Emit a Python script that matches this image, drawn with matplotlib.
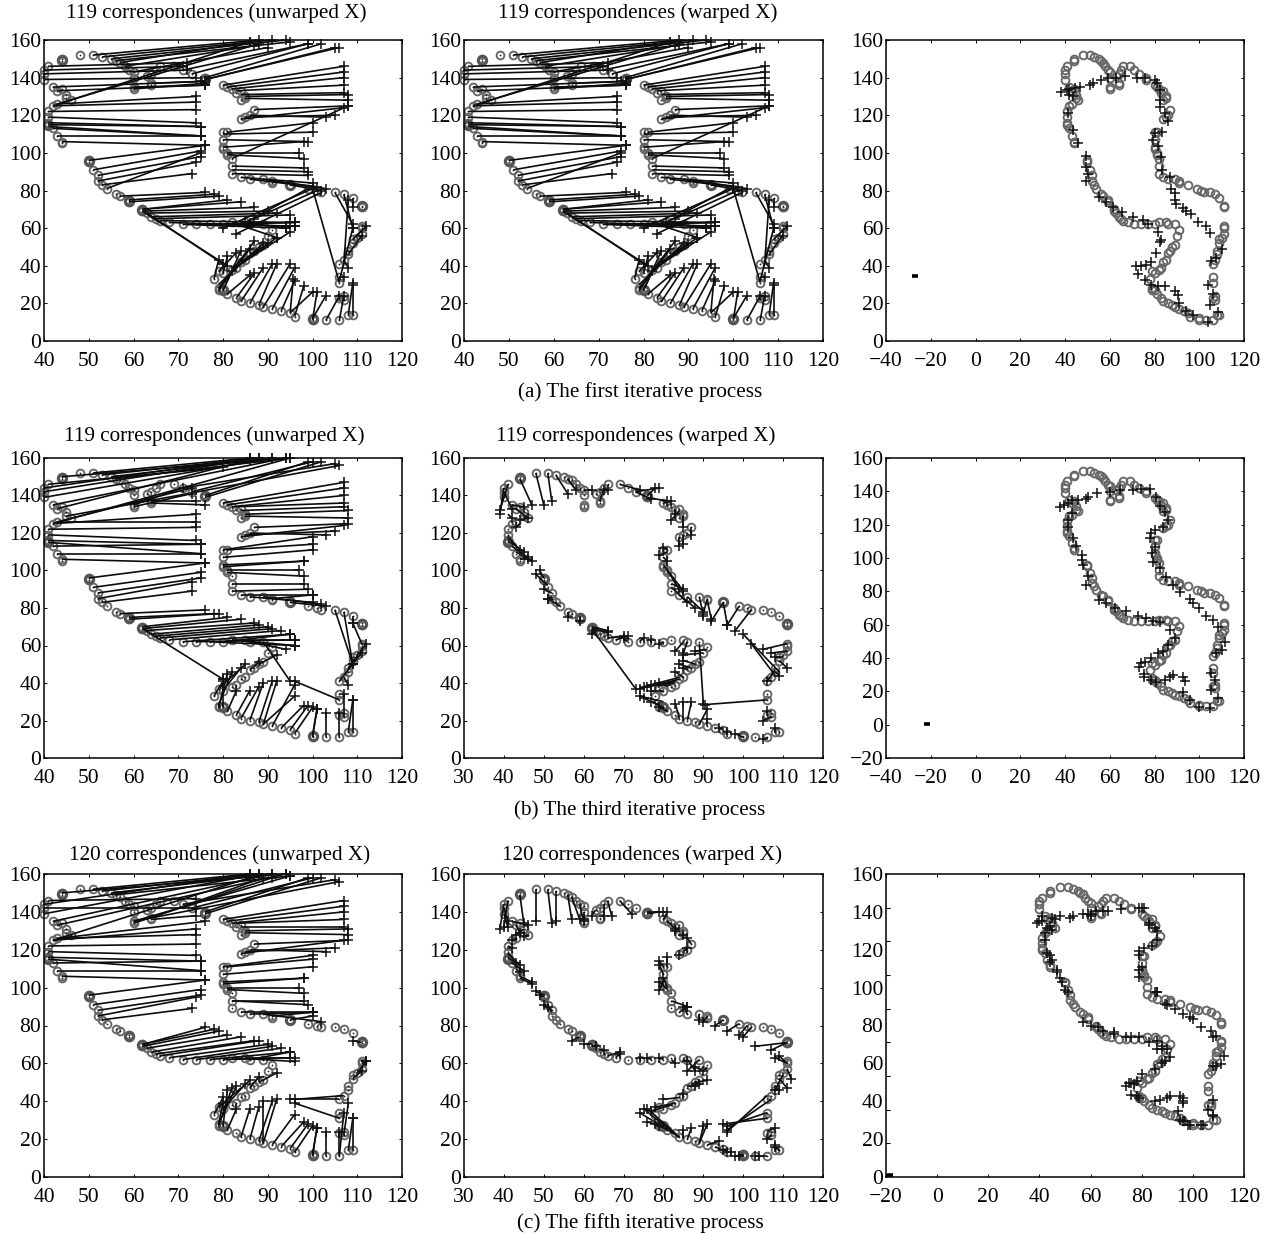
"""
Point-matching iterations: correspondences (unwarped / warped X) and the overlay
of both point sets, for the first, third and fifth iterative process.
"""
import matplotlib
matplotlib.use("Agg")
import matplotlib.pyplot as plt
from matplotlib.collections import LineCollection
import numpy as np

W, H = 1273, 1233
plt.rcParams["font.family"] = ["Liberation Serif", "DejaVu Serif"]

# ── data ──────────────────────────────────────────────────────────────────────

# the X point set (contour order), shared by all panels
CIRCLES = [
    (41, 146), (40, 144), (40, 142), (40, 139), (44, 149), (44, 150), (48, 152), (51, 152), (53, 151),
    (55, 150), (56, 149), (57, 148), (58, 146), (59, 144), (60, 143), (60, 140), (60, 135), (60, 134),
    (63, 141), (64, 142), (65, 144), (66, 146), (64, 137), (64, 136), (69, 146), (71, 144), (73, 142),
    (76, 140), (76, 139), (80, 136), (81, 135), (82, 134), (83, 132), (84, 133), (85, 130), (84, 128),
    (85, 129), (87, 123), (84, 118), (85, 119), (86, 120), (81, 111), (80, 111), (80, 107), (80, 103),
    (80, 102), (81, 100), (81, 99), (82, 97), (82, 93), (82, 89), (84, 87), (86, 86), (89, 86), (91, 85),
    (91, 84), (95, 83), (99, 81), (101, 80), (102, 79), (105, 79), (107, 78), (109, 76), (111, 71),
    (111, 72), (111, 61), (111, 60), (111, 57), (110, 55), (109, 54), (109, 52), (108, 48), (108, 46),
    (107, 43), (106, 41), (106, 34), (106, 31), (107, 24), (106, 23), (107, 22), (108, 14), (109, 14),
    (106, 11), (103, 11), (100, 11), (100, 12), (96, 13), (95, 15), (93, 16), (91, 17), (89, 18), (88, 19),
    (86, 20), (84, 21), (83, 23), (81, 25), (80, 27), (79, 27), (79, 28), (78, 33), (79, 37), (80, 36),
    (82, 38), (83, 39), (84, 42), (85, 43), (86, 47), (87, 48), (88, 50), (89, 51), (91, 59), (90, 56),
    (89, 62), (86, 62), (85, 63), (82, 63), (80, 62), (77, 62), (74, 62), (71, 62), (68, 63), (66, 64),
    (65, 65), (64, 66), (63, 68), (62, 69), (62, 70), (59, 75), (59, 74), (57, 77), (56, 78), (54, 81),
    (53, 83), (52, 85), (52, 88), (51, 91), (50, 95), (50, 96), (44, 105), (44, 106), (43, 109), (42, 113),
    (41, 115), (41, 116), (41, 119), (41, 122), (43, 126), (45, 129), (46, 128), (45, 131), (44, 134),
    (42, 135), (43, 133), (42, 125),
]
# points drawn several times over in the source, they read as dark blobs
BLOBS = [(44, 149.5), (50, 95.5), (62, 69.5), (59, 74.5), (111, 71.5), (100, 11.5), (76, 139.5), (95, 83), (41, 115), (80, 27)]

# correspondences as (circle x, circle y, cross x, cross y)
LINES_A = [
    (51, 152, 88, 160), (53, 151, 91, 160), (55, 150, 94, 160), (56, 149, 95, 159), (57, 148, 86, 159),
    (58, 146, 87, 157), (60, 143, 90, 156), (42, 125, 86, 159), (43, 126, 88, 158),
    (41, 146, 72, 148), (40, 144, 71, 146), (40, 142, 72, 144), (40, 139, 74, 140),
    (42, 135, 76, 138), (43, 133, 76, 136), (60, 135, 76, 136), (60, 134, 76, 137), (64, 137, 75, 138),
    (71, 144, 99, 158), (73, 142, 99, 158), (76, 140, 102, 158), (76, 139, 105, 156), (76, 139, 106, 156),
    (80, 136, 107, 146), (81, 135, 107, 143), (82, 134, 107, 140), (83, 133, 107, 136), (84, 131, 107, 132),
    (85, 130, 108, 131), (85, 129, 108, 128), (87, 123, 108, 125), (84, 118, 107, 124),
    (85, 119, 105, 120), (86, 120, 103, 119), (43, 126, 74, 130), (42, 125, 74, 127), (41, 122, 74, 123),
    (41, 119, 74, 116), (41, 116, 75, 114), (41, 115, 75, 114), (42, 113, 75, 109), (41, 114, 75, 109),
    (43, 109, 75, 109), (44, 106, 76, 104),
    (81, 111, 100, 116), (80, 110, 100, 111), (80, 107, 99, 106), (80, 103, 98, 106), (82, 97, 108, 125),
    (81, 100, 97, 100), (81, 99, 98, 97), (82, 93, 98, 92), (82, 91, 99, 90), (82, 89, 99, 88),
    (84, 87, 100, 84), (86, 86, 100, 82), (89, 86, 103, 81), (91, 85, 101, 82), (95, 83, 102, 80),
    (50, 96, 76, 104), (51, 91, 75, 101), (52, 88, 75, 98), (52, 85, 74, 95), (54, 81, 75, 100), (53, 83, 73, 89),
    (57, 77, 76, 79), (59, 75, 78, 78), (59, 74, 79, 77), (62, 70, 81, 75), (62, 70, 84, 74), (62, 69, 87, 71),
    (63, 68, 90, 69), (64, 66, 92, 68), (65, 65, 95, 67), (66, 64, 96, 63), (68, 63, 96, 61), (71, 62, 94, 60),
    (74, 62, 96, 63), (77, 62, 96, 61), (80, 62, 95, 63), (82, 63, 92, 55), (85, 63, 94, 60),
    (63, 68, 80, 41), (62, 69, 81, 40), (79, 28, 87, 53), (79, 27, 86, 49), (80, 27, 84, 48), (79, 37, 83, 47),
    (80, 36, 81, 45), (78, 33, 79, 43), (82, 38, 95, 58), (83, 39, 92, 55), (84, 42, 90, 52), (79, 30, 89, 52),
    (80, 27, 82, 37), (81, 25, 86, 35), (83, 23, 87, 36), (84, 21, 89, 39), (86, 20, 91, 41), (88, 19, 92, 41),
    (89, 18, 95, 41), (91, 17, 96, 39), (93, 16, 96, 32), (95, 15, 95.7, 33), (96, 13, 98, 29), (95, 15, 100, 26),
    (100, 11, 101, 26), (100, 12, 103, 24), (103, 11, 106, 24), (106, 11, 107, 24), (108, 14, 109, 31), (109, 14, 109, 30),
    (106, 31, 100, 81), (106, 34, 107, 34), (107, 43, 108, 39), (109, 54, 112, 61), (108, 46, 111, 56),
    (105, 79, 109, 62), (107, 78, 109, 60), (106, 32, 109, 60), (109, 76, 109, 71), (107, 41, 108, 75),
    (99, 81, 85, 63), (101, 80, 87, 65), (102, 79, 83, 57), (100, 81, 80, 60),
]
LINES_B = [
    (51, 152, 86, 160), (53, 151, 88, 160), (55, 150, 91, 160), (44, 150, 94, 160), (56, 149, 95, 160),
    (41, 146, 80, 155), (40, 144, 86, 160), (40, 142, 88, 160), (40, 139, 91, 160), (42, 135, 94, 160),
    (43, 133, 86, 159), (42, 125, 95, 160), (43, 126, 73, 144), (60, 135, 71, 144), (60, 134, 73, 141),
    (64, 137, 74, 137), (64, 136, 76, 135), (76, 140, 99, 158), (76, 139, 102, 158), (73, 142, 100, 158),
    (71, 144, 105, 157), (45, 129, 106, 156), (42, 125, 74, 130), (41, 122, 74, 123),
    (80, 136, 107, 147), (81, 135, 107, 144), (82, 134, 107, 140), (83, 134, 107, 136), (84, 132, 107, 134),
    (85, 130, 108, 132), (85, 129, 108, 128), (87, 123, 108, 125), (84, 118, 107, 124),
    (85, 119, 105, 121), (86, 120, 103, 119), (43, 126, 74, 126), (41, 119, 74, 116), (41, 116, 75, 114),
    (41, 115, 75, 109), (42, 113, 75, 114), (43, 109, 75, 109), (44, 106, 76, 104),
    (80, 111, 100, 118), (81, 111, 100, 114), (80, 107, 100, 111), (80, 103, 98, 105), (80, 102, 98, 105),
    (81, 100, 97, 100), (81, 99, 98, 97), (82, 93, 98, 93), (82, 89, 99, 90), (84, 87, 100, 87), (86, 86, 100, 83),
    (89, 86, 102, 82), (91, 85, 100, 87), (95, 83, 103, 81),
    (50, 96, 76, 104), (51, 91, 75, 99), (52, 88, 75, 96), (52, 85, 73, 94), (53, 83, 73, 89),
    (57, 77, 76, 79), (59, 75, 78, 77), (59, 74, 79, 77), (62, 70, 81, 75), (62, 69, 84, 74), (63, 68, 87, 72),
    (64, 66, 88, 71), (65, 65, 90, 70), (66, 64, 91, 69), (68, 63, 93, 68), (71, 62, 95, 66), (74, 62, 96, 63),
    (77, 62, 96, 60), (80, 62, 95, 66), (82, 63, 96, 60), (85, 63, 96, 63), (86, 62, 94, 58),
    (62, 69, 80, 42), (89, 62, 95, 41), (106, 31, 96, 41), (88, 50, 92, 55), (86, 47, 88, 51),
    (79, 37, 85, 50), (80, 36, 84, 48), (79, 28, 82, 46), (79, 27, 81, 45), (80, 27, 80, 42), (78, 33, 80, 41),
    (81, 25, 83, 36), (83, 23, 86, 36), (84, 21, 88, 38), (86, 20, 89, 40), (88, 19, 91, 41), (89, 18, 92, 41),
    (89, 18, 96, 33), (91, 17, 96, 39), (93, 16, 98, 28), (95, 15, 99, 28), (96, 13, 100, 27), (100, 11, 101, 26),
    (100, 12, 101, 26), (103, 11, 103, 24), (106, 11, 106, 24), (107, 22, 107, 34), (108, 14, 109, 31), (109, 14, 109, 31),
    (105, 79, 109, 50), (107, 78, 109, 50), (109, 76, 109, 72), (108, 48, 112, 61), (106, 41, 111, 56), (107, 43, 108, 39),
    (111, 61, 109, 72),
]
LINES_C = [
    (51, 152, 86, 160), (53, 151, 88, 160), (55, 150, 91, 160), (44, 150, 94, 160), (56, 149, 95, 159),
    (41, 146, 74, 147), (40, 144, 86, 160), (40, 142, 74, 142), (40, 139, 88, 160), (42, 135, 91, 160),
    (43, 133, 94, 160), (42, 125, 86, 158), (43, 126, 76, 135), (60, 135, 95, 159), (60, 134, 91, 158),
    (64, 137, 89, 158), (64, 136, 74, 138), (76, 140, 99, 158), (76, 139, 102, 158), (73, 142, 100, 158),
    (71, 144, 105, 157), (60, 135, 106, 156), (42, 125, 74, 131),
    (80, 136, 107, 146), (81, 135, 107, 143), (82, 134, 107, 140), (83, 134, 107, 136), (84, 132, 107, 132),
    (85, 130, 108, 131), (85, 129, 108, 128), (87, 123, 108, 125), (84, 118, 107, 125),
    (85, 119, 105, 121), (86, 120, 103, 119), (43, 126, 74, 128), (41, 122, 74, 123),
    (41, 119, 74, 117), (41, 116, 75, 114), (41, 115, 75, 109), (42, 113, 75, 114), (43, 109, 75, 109), (44, 106, 76, 104),
    (80, 111, 100, 117), (81, 111, 100, 115), (80, 107, 100, 111), (80, 103, 98, 105), (80, 102, 98, 105),
    (81, 100, 97, 100), (81, 99, 98, 97), (82, 93, 98, 93), (82, 93, 99, 91), (84, 87, 100, 87), (95, 83, 100, 85),
    (89, 86, 102, 82), (91, 85, 100, 87), (86, 86, 100, 87),
    (50, 96, 76, 104), (51, 91, 75, 99), (52, 88, 75, 96), (52, 85, 74, 95), (53, 83, 73, 89),
    (62, 70, 76, 79), (62, 70, 78, 78), (62, 69, 79, 77), (63, 68, 81, 75), (64, 66, 84, 74), (65, 65, 87, 72),
    (66, 64, 88, 72), (68, 63, 90, 70), (71, 62, 91, 69), (74, 62, 93, 68), (77, 62, 95, 66), (80, 62, 96, 63),
    (82, 63, 96, 61), (85, 63, 95, 63), (86, 62, 95, 66),
    (88, 50, 92, 55), (86, 47, 88, 53), (79, 37, 86, 51), (80, 36, 85, 49), (79, 28, 83, 48), (79, 27, 82, 47),
    (80, 27, 81, 46), (78, 33, 80, 42), (79, 28, 80, 39), (81, 25, 83, 36), (84, 21, 86, 36),
    (86, 20, 88, 37), (88, 19, 91, 40), (89, 18, 92, 41), (89, 18, 89, 40), (91, 17, 96, 33), (93, 16, 98, 29),
    (95, 15, 99, 28), (96, 13, 100, 27), (100, 11, 101, 26), (100, 12, 101, 26), (103, 11, 103, 24), (106, 11, 106, 24),
    (108, 14, 109, 31), (109, 14, 109, 31), (106, 11, 107, 34), (107, 22, 108, 39),
    (106, 41, 95, 41), (106, 31, 96, 39), (107, 43, 96, 41), (111, 60, 112, 61), (111, 71, 109, 72),
    (110, 55, 112, 61), (109, 52, 111, 56),
]
LINES_B_WARPED = [
    (44, 149, 47, 135), (48, 152, 50, 135), (51, 152, 52, 137), (53, 151, 56, 141), (56, 149, 58, 143),
    (60, 143, 62, 143), (41, 146, 39, 132), (40, 144, 39, 130), (40, 142, 42, 133),
    (42, 135, 45, 134), (43, 133, 46, 128), (41, 130, 42, 128), (46, 128, 44, 127), (44, 125, 43, 123),
    (41, 118, 44, 111), (41, 116, 45, 110), (42, 113, 46, 107), (43, 110, 47, 105), (44, 106, 46, 106),
    (50, 96, 49, 100), (51, 92, 48, 98), (52, 88, 50, 90), (52, 86, 51, 85), (54, 81, 51, 85),
    (56, 78, 56, 75), (59, 75, 59, 73), (62, 70, 66, 68), (62, 69, 66, 67), (63, 68, 62, 66), (62, 69, 73, 37),
    (66, 64, 70, 65), (68, 63, 71, 65), (71, 62, 70, 64), (74, 62, 75, 64), (77, 62, 77, 63), (80, 62, 79, 61),
    (85, 62, 83, 57), (86, 62, 85, 56), (91, 58, 88, 57), (90, 56, 85, 55), (89, 61, 90, 29),
    (88, 50, 85, 52), (87, 48, 84, 50), (86, 47, 85, 48), (85, 43, 83, 46),
    (84, 42, 74, 37), (84, 43, 75, 38), (83, 41, 76, 38), (83, 40, 77, 39), (82, 39, 78, 39), (81, 38, 79, 40),
    (80, 36, 77, 36), (80, 30, 74, 33), (80, 27, 75, 32), (79, 28, 77, 30), (81, 25, 79, 27),
    (106, 31, 90.5, 28.5), (84, 21, 83, 29), (85, 20, 85, 30), (86, 20, 87, 30), (89, 18, 91, 26), (91, 17, 91, 21),
    (95, 15, 94, 16), (96, 13, 96, 14), (100, 11, 98, 13), (106, 11, 105, 10), (108, 14, 108, 16),
    (106, 24, 106, 25), (107, 22, 105, 20), (111, 61, 105, 58), (111, 57, 107, 56), (110, 54, 108, 54),
    (109, 46, 100, 66), (108, 44, 102, 61), (108, 47, 106, 41), (109, 52, 111, 48), (108, 46, 109, 44),
    (102, 79, 98, 68), (99, 81, 96, 71), (95, 83, 96, 71), (95, 83, 92, 73), (91, 85, 90, 77), (91, 84, 92, 74),
    (89, 86, 90, 76), (86, 86, 90, 78), (84, 87, 88, 80), (82, 91, 86, 83), (82, 93, 85, 90), (81, 100, 84, 90),
    (80, 103, 85, 89), (80, 107, 81, 105), (81, 111, 80, 112), (81, 110, 79, 108),
    (84, 118, 84, 113), (85, 119, 85, 114), (87, 123, 87, 119), (85, 129, 85, 123), (84, 132, 82, 127),
    (83, 133, 83, 130), (80, 136, 82, 137), (76, 139, 81, 137), (73, 142, 77, 138), (69, 146, 74, 143), (73, 142, 79, 144),
    (65, 144, 66, 143), (64, 137, 65, 143), (76, 140, 78, 144),
]
LINES_C_WARPED = [
    (44, 149, 45, 134), (48, 152, 48, 135), (51, 152, 52, 134), (53, 151, 53, 135), (56, 149, 57, 136),
    (57, 148, 59, 136), (59, 144, 60, 135), (60, 140, 60, 136), (41, 146, 40, 132), (40, 144, 39, 131),
    (40, 142, 41, 135), (40, 139, 41, 132), (42, 135, 46, 133), (43, 133, 44, 129), (45, 131, 43, 128),
    (46, 128, 45, 127), (43, 126, 42, 125), (41, 122, 42, 121), (41, 118, 44, 112), (41, 116, 43, 113),
    (42, 113, 45, 109), (43, 110, 44, 108), (44, 105, 47, 102), (44, 106, 47, 103), (50, 96, 48, 98), (50, 95, 49, 96),
    (52, 88, 50, 91), (52, 87, 51, 90), (59, 74, 57, 72), (62, 70, 60, 70), (62, 69, 63, 69), (64, 67, 65, 67),
    (66, 64, 69, 66), (68, 63, 69, 65), (74, 62, 74, 63), (77, 62, 76, 63), (80, 62, 79, 63), (82, 62, 83, 60),
    (85, 62, 86, 61), (89, 62, 86, 56), (86, 62, 88, 56), (91, 58, 90, 56), (90, 56, 88, 58), (88, 50, 91, 51),
    (87, 49, 89, 49), (86, 48, 88, 48), (85, 43, 85, 44), (84, 42, 80, 41), (83, 39, 78, 37), (82, 38, 77, 35),
    (84, 21, 74, 34), (84, 21, 75, 36), (83, 23, 76, 36), (80, 27, 76, 29), (81, 25, 78, 28), (80, 26, 79, 27),
    (86, 20, 87, 26), (85, 20, 85, 25), (89, 18, 90, 27), (89, 18, 91, 28), (91, 17, 94, 19), (93, 16, 95, 14),
    (95, 15, 96, 13), (96, 13, 97, 13), (100, 11, 99, 11), (100, 12, 98, 11), (103, 11, 104, 11), (106, 11, 103, 11),
    (108, 14, 108, 17), (109, 14, 108, 16), (107, 22, 106, 20), (106, 24, 108, 26), (106, 31, 95, 28), (106, 34, 96, 27),
    (107, 41, 96, 25), (106, 43, 96, 24), (108, 47, 109, 46), (109, 52, 111, 47), (110, 54, 108, 46), (111, 57, 112, 52),
    (111, 60, 108, 63), (111, 60, 109, 64), (111, 71, 103, 69), (111, 71, 107, 67), (102, 79, 100, 74), (101, 80, 99, 75),
    (99, 81, 96, 77), (95, 83, 93, 80), (91, 85, 90, 82), (89, 86, 89, 83), (86, 86, 85, 90), (84, 87, 86, 90), (82, 93, 86, 90),
    (80, 103, 79, 99), (81, 99, 79, 103), (81, 100, 80, 105), (80, 107, 79, 112), (80, 111, 79, 114), (81, 111, 81, 116),
    (84, 118, 84, 117), (85, 119, 86, 121), (87, 123, 86, 126), (85, 129, 85, 128), (84, 132, 83, 130), (81, 135, 83, 131),
    (80, 136, 81, 140), (76, 140, 80, 140), (76, 139, 79, 140), (69, 146, 72, 139), (66, 146, 67, 138), (65, 144, 65, 138),
    (63, 141, 62, 138),
]

# crosses of the overlay panels
CROSSES_A_RIGHT = [
    (38.4, 132.6), (40.7, 133.5), (42, 134), (44.4, 134.4), (46.6, 135), (51, 136), (52.6, 137), (56.3, 139), (59, 139.7),
    (63, 140), (66.7, 140.6), (72, 140), (75.6, 140), (80, 139), (81, 137), (82.3, 133.5), (82.3, 128), (82.6, 124.6),
    (84.5, 121), (86, 116.7), (83.5, 111.3), (80, 110.5), (79.3, 107), (81.6, 103.4), (83, 97.7), (83.5, 91), (86.8, 87),
    (87.5, 81), (89, 78.5), (89, 75), (89.8, 73), (92.7, 70.6), (94.2, 69.3), (96.5, 67.6), (99.4, 63.5), (103, 61),
    (104.6, 57.3), (110, 49), (107.6, 44), (105.4, 42.7), (104, 29.8), (106, 25), (105, 19), (108.4, 15.6), (104, 10.3),
    (97.2, 13.8), (94.2, 16), (91, 20), (90.5, 24.5), (89, 26.8), (84.6, 29), (81.6, 29), (78.6, 30), (75.6, 32.4),
    (72.7, 35.6), (71.6, 40), (74, 40), (76.4, 40.4), (78.6, 42), (80.8, 46.6), (82.3, 52.8), (83, 53.7), (81.6, 58),
    (77, 62), (75, 64.3), (70.4, 66), (65.6, 68.8), (61.5, 71), (58.5, 74), (55.2, 76.4), (49.6, 85), (50.3, 89),
    (49.6, 92.7), (49.3, 98.4), (45.9, 105.5), (43.6, 112), (41.4, 121), (43.6, 130), (42, 131),
]
CROSSES_B_RIGHT = [
    (37.7, 130.7), (39.5, 132), (41.4, 133), (43, 134.6), (45.9, 135), (49.6, 135.6), (50.3, 136.6), (54.3, 139), (60, 139.6),
    (64.5, 140.6), (70.4, 141), (74, 141.6), (77.9, 141.6), (80.8, 136.6), (82.3, 131), (84.5, 127.7), (86, 122.7),
    (83.8, 118.7), (80, 116.7), (78.6, 114.7), (77.9, 111.7), (80, 106.7), (79, 102.7), (79.3, 97.7), (82.3, 93.7),
    (85.3, 88.7), (88.3, 83.7), (91.3, 79.8), (95.7, 75.4), (97.2, 72.8), (99.9, 70.2), (103, 65.4), (106, 62.8), (108.4, 58.8),
    (111.3, 49.8), (110.3, 44.9), (107.6, 42.8), (105.4, 30.9), (107, 26.8), (105.4, 20.8), (108.4, 15.9), (104.6, 9.9),
    (99.9, 10.9), (95.7, 14.9), (92.7, 19.9), (93.5, 26.3), (92.7, 28.8), (88.3, 29.8), (86.8, 28.8), (84.5, 26.8), (80.8, 25.8),
    (78.6, 26.8), (75.2, 28.9), (75.2, 30.2), (73, 34.8), (74, 36.8), (75.6, 37.8), (78.6, 39.8), (81.6, 42.8), (83.8, 43.9),
    (86, 47.8), (89, 51.8), (86.8, 56.8), (82.3, 61.8), (79.3, 62.4), (76.4, 63.8), (72.7, 65.2), (67.2, 68.2), (62.2, 69.8),
    (58.5, 72.8), (55.2, 74.8), (49.6, 83.7), (50.3, 89.3), (48.1, 95.7), (47.4, 98.7), (47.4, 101.7), (44.8, 107),
    (43.6, 111.7), (41.4, 118.7), (41.4, 122.7), (43, 126.7),
]
# stray crosses on the far left of the overlay panels
STRAY_A = (-27, 34.5)
STRAY_B = (-21.5, 0.5)
STRAY_C = (-18.5, 1.2)

TITLES = [
    ("119 correspondences (unwarped X)", "119 correspondences (warped X)"),
    ("119 correspondences (unwarped X)", "119 correspondences (warped X)"),
    ("120 correspondences (unwarped X)", "120 correspondences (warped X)"),
]
CAPTIONS = ["(a) The first iterative process", "(b) The third iterative process", "(c) The fifth iterative process"]

Y_TICKS = [0, 20, 40, 60, 80, 100, 120, 140, 160]
X_TICKS_10 = [40, 50, 60, 70, 80, 90, 100, 110, 120]
X_TICKS_30 = [30, 40, 50, 60, 70, 80, 90, 100, 110, 120]
X_TICKS_WIDE = [-40, -20, 0, 20, 40, 60, 80, 100, 120]
X_TICKS_C = [-20, 0, 20, 40, 60, 80, 100, 120]
C_SHIFT = 20  # panel (c) overlay is drawn 20 higher on a 0-180 axis

GREY = "#666666"


# ── helpers ───────────────────────────────────────────────────────────────────

def _axes(fig, left, right, top, bottom):
    return fig.add_axes([left / W, 1 - bottom / H, (right - left) / W, (bottom - top) / H])


def _style(ax, xlim, ylim, xticks, yticks):
    ax.set_xlim(*xlim)
    ax.set_ylim(*ylim)
    ax.set_xticks(xticks)
    ax.set_yticks(yticks)
    ax.set_xticklabels([str(v).replace("-", "\u2212") for v in xticks])
    ax.set_yticklabels([str(v).replace("-", "\u2212") for v in yticks])
    ax.tick_params(direction="in", length=2, width=0.7, labelsize=15.5, top=True, right=True)
    ax.tick_params(axis="x", pad=8)
    ax.tick_params(axis="y", pad=2)
    for spine in ax.spines.values():
        spine.set_linewidth(1.1)


def _circles(ax, dy=0, dots=True):
    pts = np.array(CIRCLES, dtype=float)
    blobs = np.array(BLOBS, dtype=float)
    ax.plot(pts[:, 0], pts[:, 1] + dy, "o", ms=5.6, mfc="none", mec=GREY, mew=1.35, zorder=2, clip_on=False)
    if dots:
        ax.plot(blobs[:, 0], blobs[:, 1] + dy, "o", ms=6, mfc="none", mec="#555555", mew=2.2, zorder=2)
        ax.plot(pts[:, 0], pts[:, 1] + dy, "o", ms=1.3, color="#222222", mew=0, zorder=2)


def _crosses(ax, xs, ys):
    ax.plot(xs, ys, "+", ms=7.5, mew=1.1, color="#111111", zorder=4, clip_on=False)


def plot_matches(ax, lines, xlim, xticks):
    _circles(ax)
    arr = np.array(lines, dtype=float)
    segs = [[(a, b), (c, d)] for a, b, c, d in arr]
    ax.add_collection(LineCollection(segs, colors="#0c0c0c", linewidths=1.2, zorder=3))
    _crosses(ax, arr[:, 2], arr[:, 3])
    _style(ax, xlim, (0, 160), xticks, Y_TICKS)


def plot_overlay(ax, crosses, stray, ylim, yticks):
    _circles(ax, dots=False)
    arr = np.array(crosses, dtype=float)
    _crosses(ax, arr[:, 0], arr[:, 1])
    ax.plot([stray[0]], [stray[1]], "_", ms=4, mew=2.6, color="black")
    _style(ax, (-40, 120), ylim, X_TICKS_WIDE, yticks)


def plot_overlay_c(ax, crosses):
    # tick marks run on a 0-180 scale while the labels still read 0-160
    _circles(ax, dy=C_SHIFT, dots=False)
    arr = np.array(crosses, dtype=float)
    _crosses(ax, arr[:, 2], arr[:, 3] + C_SHIFT)
    ax.plot([STRAY_C[0]], [STRAY_C[1]], "_", ms=4, mew=2.6, color="black", clip_on=False)
    _style(ax, (-20, 120), (0, 180), X_TICKS_C, [0, 180])
    ax.set_yticks(np.array(Y_TICKS) * 180 / 160)
    ax.set_yticklabels([str(v) for v in Y_TICKS])
    ax.tick_params(axis="y", length=0, which="major")
    ax.set_yticks(Y_TICKS + [180], minor=True)
    ax.tick_params(axis="y", which="minor", direction="in", length=3, width=0.8, left=True, right=False)


# ── main ──────────────────────────────────────────────────────────────────────

def main():
    fig = plt.figure(figsize=(W / 100, H / 100), dpi=100, facecolor="white")

    rows = [(40, 341), (458, 758), (874, 1177)]
    cols = [(44, 402), (464, 823), (886, 1244)]

    t, b = rows[0]
    plot_matches(_axes(fig, *cols[0], t, b), LINES_A, (40, 120), X_TICKS_10)
    plot_matches(_axes(fig, *cols[1], t, b), LINES_A, (40, 120), X_TICKS_10)
    plot_overlay(_axes(fig, *cols[2], t, b), CROSSES_A_RIGHT, STRAY_A, (0, 160), Y_TICKS)

    t, b = rows[1]
    plot_matches(_axes(fig, *cols[0], t, b), LINES_B, (40, 120), X_TICKS_10)
    plot_matches(_axes(fig, *cols[1], t, b), LINES_B_WARPED, (30, 120), X_TICKS_30)
    plot_overlay(_axes(fig, *cols[2], t, b), CROSSES_B_RIGHT, STRAY_B, (-20, 160), [-20] + Y_TICKS)

    t, b = rows[2]
    plot_matches(_axes(fig, *cols[0], t, b), LINES_C, (40, 120), X_TICKS_10)
    plot_matches(_axes(fig, *cols[1], t, b), LINES_C_WARPED, (30, 120), X_TICKS_30)
    plot_overlay_c(_axes(fig, *cols[2], t, b), LINES_C_WARPED)

    title_pos = [((216, 13), (638, 13)), ((214, 436), (636, 436)), ((220, 855), (642, 855))]
    for names, places in zip(TITLES, title_pos):
        for name, (x, y) in zip(names, places):
            fig.text(x / W, 1 - y / H, name, ha="center", va="center", fontsize=15.2)
    for text, y in zip(CAPTIONS, [392, 810, 1223]):
        fig.text(640 / W, 1 - y / H, text, ha="center", va="center", fontsize=15.2)

    fig.savefig("out.png", dpi=100)


if __name__ == "__main__":
    main()
